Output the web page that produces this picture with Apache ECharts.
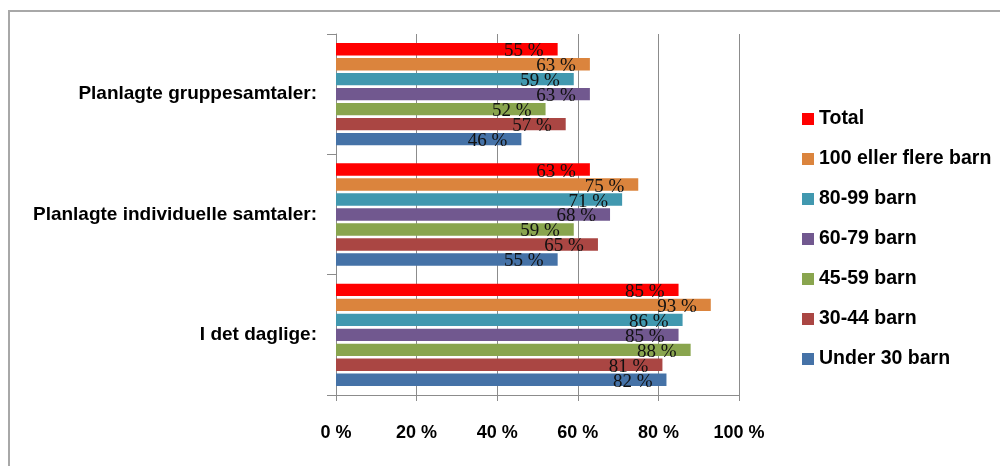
<!DOCTYPE html>
<html>
<head>
<meta charset="utf-8">
<script src="https://cdn.jsdelivr.net/npm/echarts@6/dist/echarts.min.js"></script>
<style>
  html, body { margin: 0; padding: 0; background: #fff; }
  #chart { position: absolute; left: 0; top: 0; width: 1000px; height: 466px; }
  #frame { position: absolute; left: 8px; top: 10px; width: 1000px; height: 470px;
           border-left: 2px solid #a8a8a8; border-top: 2px solid #a8a8a8; pointer-events: none; }
</style>
</head>
<body>
<div id="chart"></div>
<div id="frame"></div>
<script>
// Categories (bottom to top on the axis)
const categories = ["I det daglige:", "Planlagte individuelle samtaler:", "Planlagte gruppesamtaler:"];
// Value axis ticks
const xTicks = [0, 20, 40, 60, 80, 100];
// Series names (drawing order: first = top bar within each group)
const seriesNames = ["Total", "100 eller flere barn", "80-99 barn", "60-79 barn", "45-59 barn", "30-44 barn", "Under 30 barn"];
// Values per series, in category order [daglige, individuelle, gruppe]
const total = [85, 63, 55];
const b100plus = [93, 75, 63];
const b80_99 = [86, 71, 59];
const b60_79 = [85, 68, 63];
const b45_59 = [88, 59, 52];
const b30_44 = [81, 65, 57];
const under30 = [82, 55, 46];

const seriesValues = [total, b100plus, b80_99, b60_79, b45_59, b30_44, under30];
const colors = ["#FF0000", "#DB843D", "#4198AF", "#71588F", "#89A54E", "#AA4643", "#4572A7"];

const chart = echarts.init(document.getElementById('chart'), null, { renderer: 'canvas' });

const series = seriesNames.map((name, i) => ({
  name: name,
  type: 'bar',
  data: seriesValues[i],
  itemStyle: { color: colors[i] },
  barGap: '21%',
  barCategoryGap: '15%',
  label: {
    show: true,
    position: 'insideRight',
    distance: 14,
    offset: [0, 2],
    formatter: '{c} %',
    fontFamily: 'Liberation Serif',
    fontSize: 19,
    color: '#111111'
  },
  animation: false
}));

chart.setOption({
  animation: false,
  backgroundColor: '#ffffff',
  grid: { left: 336, right: 261, top: 34, bottom: 71, containLabel: false },
  legend: {
    orient: 'vertical',
    left: 802,
    top: 109,
    padding: 0,
    itemWidth: 12,
    itemHeight: 12,
    itemGap: 20,
    icon: 'rect',
    data: seriesNames,
    textStyle: { fontFamily: 'Liberation Sans', fontWeight: 'bold', fontSize: 19.5, color: '#000', lineHeight: 20 }
  },
  xAxis: {
    type: 'value',
    min: xTicks[0],
    max: xTicks[xTicks.length - 1],
    interval: xTicks[1] - xTicks[0],
    axisLine: { show: true, lineStyle: { color: '#8c8c8c', width: 1 } },
    axisTick: { show: true, length: 6, lineStyle: { color: '#8c8c8c' } },
    splitLine: { show: true, lineStyle: { color: '#8c8c8c', width: 1 } },
    axisLabel: {
      formatter: '{value} %',
      margin: 29,
      fontFamily: 'Liberation Sans',
      fontWeight: 'bold',
      fontSize: 18,
      color: '#000'
    }
  },
  yAxis: {
    type: 'category',
    data: categories,
    axisLine: { show: true, lineStyle: { color: '#8c8c8c', width: 1 } },
    axisTick: { show: true, length: 9, lineStyle: { color: '#8c8c8c' } },
    axisLabel: {
      margin: 19,
      fontFamily: 'Liberation Sans',
      fontWeight: 'bold',
      fontSize: 19,
      color: '#000'
    }
  },
  series: series
});
</script>
</body>
</html>
